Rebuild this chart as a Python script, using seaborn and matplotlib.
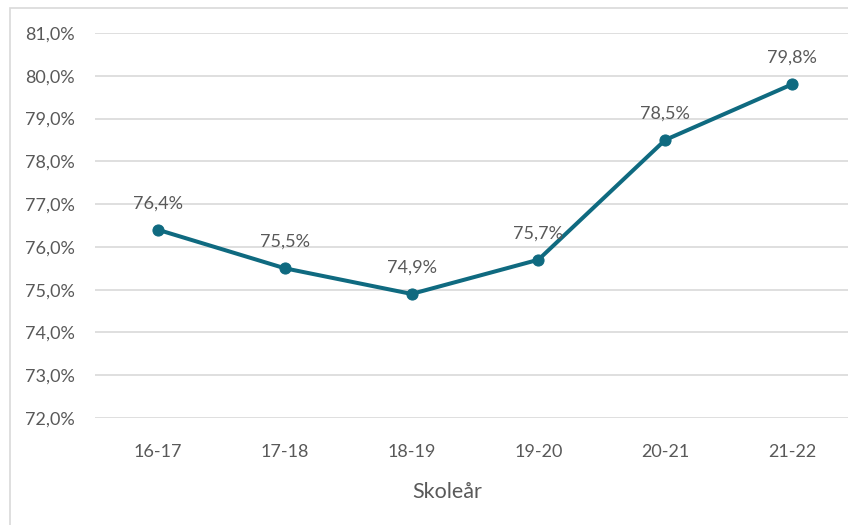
import matplotlib
matplotlib.use('Agg')
import matplotlib.pyplot as plt
import seaborn as sns
import pandas as pd
from matplotlib.ticker import FuncFormatter, MultipleLocator
from matplotlib.patches import Rectangle

# Data
years = ['16-17', '17-18', '18-19', '19-20', '20-21', '21-22']
share = [76.4, 75.5, 74.9, 75.7, 78.5, 79.8]

LINE_COLOR = '#0F6A80'
TEXT_COLOR = '#595959'
GRID_COLOR = '#D9D9D9'

df = pd.DataFrame({'Skoleår': years, 'Andel': share})

sns.set_theme(style='white')
plt.rcParams['font.family'] = ['Lato', 'DejaVu Sans']

fig = plt.figure(figsize=(8.48, 5.25), dpi=100)
# plot area runs past the right edge, as in the cropped screenshot
ax = fig.add_axes([94.6 / 848, 1 - 418 / 525, 760.8 / 848, 385 / 525])

# outer chart frame (cropped on right and bottom)
fig.patches.append(Rectangle((10 / 848, -0.1), 1.2, 1 - 8 / 525 + 0.1,
                             transform=fig.transFigure, fill=False,
                             edgecolor=GRID_COLOR, linewidth=1.2, zorder=0))

sns.lineplot(data=df, x='Skoleår', y='Andel', sort=False, ax=ax,
             color=LINE_COLOR, linewidth=2.9, marker='o', markersize=8,
             markeredgecolor=LINE_COLOR, zorder=3)

for i, (lab, v) in enumerate(zip(years, share)):
    ax.annotate(f'{v:.1f}%'.replace('.', ','), (i, v), xytext=(0, 19),
                textcoords='offset points', ha='center', va='center',
                fontsize=13, color=TEXT_COLOR, zorder=4)

ax.set_xlim(-0.5, 5.5)
ax.set_ylim(72, 81)
ax.yaxis.set_major_locator(MultipleLocator(1))
ax.yaxis.set_major_formatter(FuncFormatter(lambda v, p: f'{v:.1f}%'.replace('.', ',')))
ax.grid(axis='y', color=GRID_COLOR, linewidth=1.2)
ax.set_axisbelow(True)
for s in ax.spines.values():
    s.set_visible(False)
ax.tick_params(axis='both', length=0, labelsize=13, labelcolor=TEXT_COLOR)
ax.tick_params(axis='y', pad=14)
ax.tick_params(axis='x', pad=19)
ax.set_ylabel('')
ax.set_xlabel('Skoleår', fontsize=15.5, color=TEXT_COLOR)
ax.xaxis.set_label_coords((447 - 94.6) / 760.8, -0.165)

fig.savefig('out.png', dpi=100)
